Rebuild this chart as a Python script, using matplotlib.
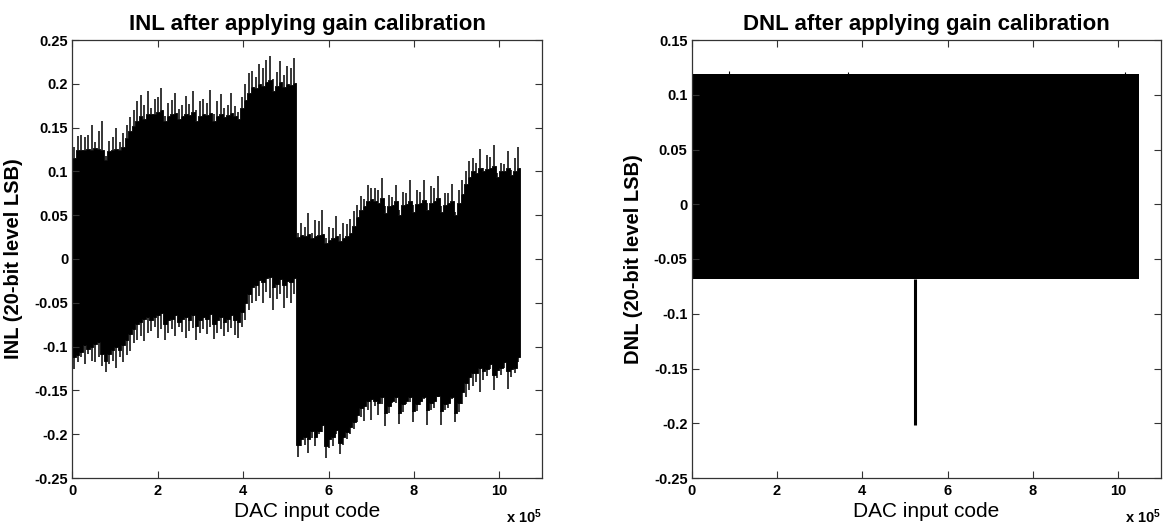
import numpy as np
import matplotlib
matplotlib.use('Agg')
import matplotlib.pyplot as plt

plt.rcParams['font.family'] = ['Liberation Sans', 'DejaVu Sans']
plt.rcParams['font.weight'] = 'bold'
plt.rcParams['axes.unicode_minus'] = False
plt.rcParams['mathtext.fontset'] = 'custom'
plt.rcParams['mathtext.rm'] = 'Liberation Sans'
plt.rcParams['mathtext.bf'] = 'Liberation Sans:bold'
plt.rcParams['mathtext.default'] = 'bf'

# ---------------- data ----------------
N_CODES = 2 ** 20          # 20-bit DAC
SEG_CODES = 8192           # 128 segments of 8192 codes

# INL, first half (segments 0..63): band base levels and spike tips
inl_hi_base_1 = [0.115, 0.124, 0.125, 0.124, 0.126, 0.125, 0.127, 0.126, 0.124, 0.113, 0.123, 0.124, 0.126, 0.125, 0.128,
                 0.138, 0.146, 0.152, 0.158, 0.163, 0.160, 0.165,
                 0.165, 0.166, 0.168, 0.170, 0.158, 0.163, 0.165, 0.167, 0.160, 0.163, 0.166, 0.164, 0.168, 0.158, 0.163,
                 0.165, 0.164, 0.167, 0.158, 0.163, 0.166, 0.162, 0.164, 0.167, 0.163, 0.160,
                 0.172, 0.182, 0.190, 0.196, 0.195,
                 0.200, 0.198, 0.202, 0.204, 0.192, 0.198, 0.202, 0.196, 0.200, 0.199, 0.201]
inl_hi_peak_1 = [0.128, 0.140, 0.142, 0.139, 0.141, 0.153, 0.133, 0.146, 0.157, 0.118, 0.135, 0.139, 0.150, 0.133, 0.144,
                 0.153, 0.162, 0.170, 0.180, 0.187, 0.176, 0.192,
                 0.172, 0.183, 0.185, 0.195, 0.163, 0.178, 0.181, 0.189, 0.171, 0.176, 0.186, 0.177, 0.192, 0.170, 0.180,
                 0.183, 0.178, 0.193, 0.165, 0.180, 0.188, 0.172, 0.176, 0.190, 0.175, 0.168,
                 0.185, 0.200, 0.212, 0.215, 0.208,
                 0.223, 0.218, 0.227, 0.232, 0.205, 0.214, 0.226, 0.210, 0.220, 0.218, 0.229]
inl_lo_base_1 = [-0.112, -0.110, -0.106, -0.098, -0.103, -0.100, -0.097, -0.095, -0.108, -0.116, -0.108, -0.104, -0.100, -0.104, -0.098,
                 -0.092, -0.086, -0.080, -0.074, -0.072, -0.068, -0.066,
                 -0.070, -0.066, -0.064, -0.062, -0.074, -0.070, -0.068, -0.064, -0.072, -0.068, -0.066, -0.070, -0.064, -0.076, -0.070,
                 -0.066, -0.068, -0.063, -0.074, -0.070, -0.066, -0.072, -0.068, -0.064, -0.070, -0.072,
                 -0.060, -0.050, -0.040, -0.032, -0.030,
                 -0.024, -0.026, -0.022, -0.020, -0.032, -0.028, -0.023, -0.030, -0.025, -0.026, -0.022]
inl_lo_peak_1 = [-0.125, -0.118, -0.112, -0.120, -0.108, -0.116, -0.118, -0.112, -0.122, -0.129, -0.120, -0.116, -0.124, -0.112, -0.118,
                 -0.110, -0.105, -0.096, -0.092, -0.088, -0.094, -0.085,
                 -0.082, -0.078, -0.090, -0.080, -0.093, -0.084, -0.080, -0.088, -0.078, -0.083, -0.090, -0.082, -0.079, -0.092, -0.084,
                 -0.080, -0.086, -0.078, -0.091, -0.085, -0.080, -0.088, -0.083, -0.079, -0.087, -0.090,
                 -0.078, -0.070, -0.058, -0.050, -0.048,
                 -0.042, -0.050, -0.038, -0.045, -0.058, -0.046, -0.040, -0.056, -0.044, -0.050, -0.040]

# INL, second half (segments 64..127)
inl_hi_base_2 = [0.025, 0.027, 0.026, 0.028, 0.024, 0.026, 0.027, 0.029, 0.018, 0.022, 0.024, 0.026, 0.020, 0.024, 0.026, 0.030,
                 0.038, 0.048, 0.056, 0.060, 0.066,
                 0.068, 0.066, 0.064, 0.070, 0.052, 0.060, 0.062, 0.066, 0.050, 0.062, 0.063, 0.066, 0.054, 0.063, 0.064,
                 0.067, 0.056, 0.064, 0.066, 0.070, 0.054, 0.062, 0.064, 0.066, 0.050, 0.064,
                 0.074, 0.086, 0.094, 0.100, 0.098,
                 0.104, 0.100, 0.103, 0.104, 0.106, 0.094, 0.100, 0.101, 0.104, 0.096, 0.101, 0.104]
inl_hi_peak_2 = [0.030, 0.041, 0.036, 0.052, 0.030, 0.045, 0.043, 0.056, 0.024, 0.037, 0.035, 0.049, 0.028, 0.041, 0.040, 0.046,
                 0.055, 0.062, 0.072, 0.068, 0.084,
                 0.081, 0.081, 0.079, 0.092, 0.060, 0.073, 0.071, 0.085, 0.056, 0.077, 0.075, 0.090, 0.062, 0.079, 0.077,
                 0.090, 0.064, 0.083, 0.081, 0.095, 0.060, 0.075, 0.075, 0.086, 0.054, 0.079,
                 0.090, 0.100, 0.112, 0.115, 0.110,
                 0.126, 0.104, 0.119, 0.117, 0.130, 0.098, 0.110, 0.109, 0.123, 0.102, 0.115, 0.128]
inl_lo_base_2 = [-0.212, -0.205, -0.203, -0.206, -0.196, -0.203, -0.196, -0.190, -0.214, -0.205, -0.203, -0.195, -0.210, -0.203, -0.197, -0.192,
                 -0.186, -0.178, -0.170, -0.168, -0.162,
                 -0.160, -0.162, -0.164, -0.158, -0.176, -0.168, -0.162, -0.158, -0.176, -0.166, -0.162, -0.158, -0.174, -0.165, -0.162,
                 -0.158, -0.172, -0.164, -0.162, -0.156, -0.174, -0.166, -0.164, -0.158, -0.176, -0.164,
                 -0.152, -0.142, -0.135, -0.130, -0.130,
                 -0.124, -0.128, -0.125, -0.120, -0.132, -0.127, -0.124, -0.118, -0.128, -0.126, -0.124, -0.112]
inl_lo_peak_2 = [-0.226, -0.214, -0.212, -0.221, -0.204, -0.214, -0.200, -0.198, -0.227, -0.216, -0.214, -0.200, -0.223, -0.212, -0.205, -0.200,
                 -0.194, -0.186, -0.180, -0.185, -0.172,
                 -0.184, -0.168, -0.178, -0.166, -0.191, -0.176, -0.164, -0.164, -0.188, -0.175, -0.165, -0.163, -0.186, -0.174, -0.167,
                 -0.160, -0.189, -0.172, -0.170, -0.158, -0.190, -0.172, -0.170, -0.160, -0.186, -0.175,
                 -0.166, -0.158, -0.150, -0.145, -0.140,
                 -0.152, -0.138, -0.134, -0.126, -0.150, -0.136, -0.132, -0.124, -0.148, -0.135, -0.130, -0.118]

# DNL: dense band limits, isolated spikes
dnl_band_codes = [0, N_CODES]
dnl_band_hi = [0.119, 0.119]
dnl_band_lo = [-0.068, -0.068]
dnl_spike_codes = [524288]
dnl_spike_vals = [-0.202]
dnl_bump_codes = [87000, 366000, 1016000]
dnl_bump_vals = [0.1215, 0.1212, 0.1212]

x_ticks = [0, 2e5, 4e5, 6e5, 8e5, 10e5]
x_ticklabels = ['0', '2', '4', '6', '8', '10']
inl_yticks = [0.25, 0.2, 0.15, 0.1, 0.05, 0, -0.05, -0.1, -0.15, -0.2, -0.25]
inl_yticklabels = ['0.25', '0.2', '0.15', '0.1', '0.05', '0', '-0.05', '-0.1', '-0.15', '-0.2', '-0.25']
dnl_yticks = [0.15, 0.1, 0.05, 0, -0.05, -0.1, -0.15, -0.2, -0.25]
dnl_yticklabels = ['0.15', '0.1', '0.05', '0', '-0.05', '-0.1', '-0.15', '-0.2', '-0.25']

# ---------------- figure ----------------
W, H = 1168, 525
fig = plt.figure(figsize=(W / 100, H / 100), dpi=100)
ax1 = fig.add_axes([72.3 / W, 47 / H, 469.7 / W, 438 / H])
ax2 = fig.add_axes([691.7 / W, 47 / H, 469.0 / W, 438 / H])

hi_base = np.array(inl_hi_base_1 + inl_hi_base_2)
hi_peak = np.array(inl_hi_peak_1 + inl_hi_peak_2)
lo_base = np.array(inl_lo_base_1 + inl_lo_base_2)
lo_peak = np.array(inl_lo_peak_1 + inl_lo_peak_2)
n_seg = len(hi_base)
seg_start = np.arange(n_seg) * SEG_CODES
edges = np.append(seg_start, N_CODES)
mid = seg_start + SEG_CODES / 2

ax1.fill_between(edges, np.append(lo_base, lo_base[-1]), np.append(hi_base, hi_base[-1]),
                 step='post', color='black', linewidth=0.6, edgecolor='black')
ax1.vlines(mid, hi_base, hi_peak, color='black', linewidth=1.1)
ax1.vlines(mid, lo_peak, lo_base, color='black', linewidth=1.1)

ax2.fill_between(dnl_band_codes, dnl_band_lo, dnl_band_hi, color='black', linewidth=0)
ax2.vlines(dnl_spike_codes, dnl_spike_vals, dnl_band_lo[0], color='black', linewidth=2.2)
ax2.vlines(dnl_bump_codes, dnl_band_hi[0], dnl_bump_vals, color='black', linewidth=0.8)

configs = [
    (ax1, 'INL after applying gain calibration', 'INL (20-bit level LSB)', (-0.25, 0.25), inl_yticks, inl_yticklabels),
    (ax2, 'DNL after applying gain calibration', 'DNL (20-bit level LSB)', (-0.25, 0.15), dnl_yticks, dnl_yticklabels),
]
for ax, title, ylabel, ylim, yt, ytl in configs:
    ax.set_xlim(0, 11e5)
    ax.set_ylim(*ylim)
    ax.set_xticks(x_ticks)
    ax.set_xticklabels(x_ticklabels)
    ax.set_yticks(yt)
    ax.set_yticklabels(ytl)
    ax.tick_params(direction='in', length=5, width=0.8, top=True, right=True,
                   labelsize=10.5, colors='#333333', labelcolor='black')
    ax.tick_params(axis='x', pad=4)
    ax.tick_params(axis='y', pad=3)
    for s in ax.spines.values():
        s.set_color('#333333')
        s.set_linewidth(0.9)
    ax.set_title(title, fontsize=16, fontweight='bold', pad=7)
    ax.set_ylabel(ylabel, fontsize=14.5, fontweight='bold', labelpad=8)
    ax.set_xlabel('DAC input code', fontsize=15, fontweight='normal', labelpad=3)
    ax.text(1.0, -0.068, 'x 10$^5$', transform=ax.transAxes, ha='right', va='top',
            fontsize=10.5, fontweight='bold')

fig.savefig('out.png', dpi=100)
